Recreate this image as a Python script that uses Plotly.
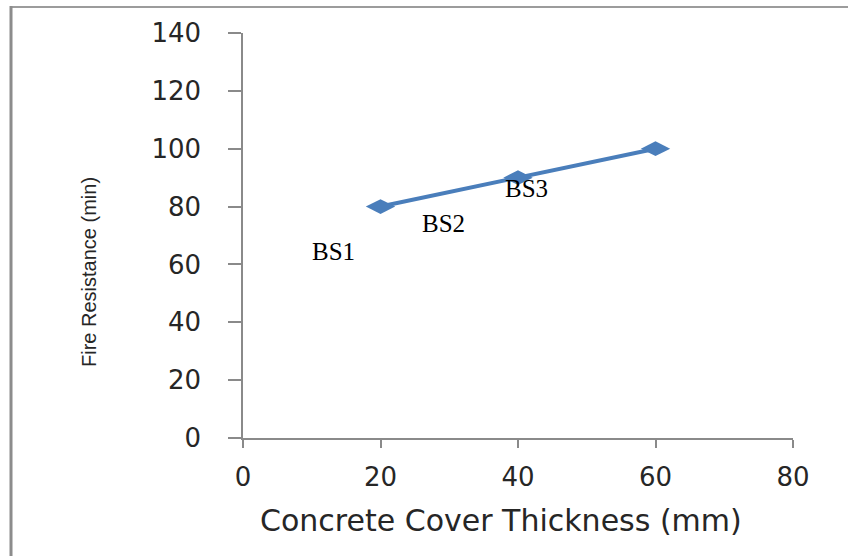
import plotly.graph_objects as go

# Fire resistance vs. concrete cover thickness
cover_mm = [20, 40, 60]
fire_resistance_min = [80, 90, 100]

# Specimen labels and where they sit on the chart (data units)
specimen_labels = ["BS1", "BS2", "BS3"]
label_x = [13.2, 29.1, 41.3]
label_y = [64.6, 74.1, 86.2]

x_ticks = [0, 20, 40, 60, 80]
y_ticks = [0, 20, 40, 60, 80, 100, 120, 140]

W, H = 848, 556
M_L, M_R, M_T, M_B = 243, 55, 33, 118
plot_w = W - M_L - M_R
plot_h = H - M_T - M_B


def px_to_paper_x(px):
    return (px - M_L) / plot_w


def py_to_paper_y(py):
    return (H - M_B - py) / plot_h


line_blue = "#4a7ebb"
axis_grey = "#8a8a8a"
text_col = "#262626"
tick_font = dict(family="DejaVu Sans", size=26, color=text_col)

fig = go.Figure()
fig.add_trace(go.Scatter(
    x=cover_mm,
    y=fire_resistance_min,
    mode="lines+markers",
    line=dict(color=line_blue, width=4),
    marker=dict(symbol="diamond-wide", size=21, color=line_blue),
    showlegend=False,
    hoverinfo="skip",
))

for txt, lx, ly in zip(specimen_labels, label_x, label_y):
    fig.add_annotation(
        x=lx, y=ly, xref="x", yref="y", text=txt, showarrow=False,
        font=dict(family="Liberation Serif", size=25, color="#000000"),
        xanchor="center", yanchor="middle",
    )

# Axis titles
fig.add_annotation(
    x=px_to_paper_x(501), y=py_to_paper_y(520), xref="paper", yref="paper",
    text="Concrete Cover Thickness (mm)", showarrow=False,
    font=dict(family="DejaVu Sans", size=30, color=text_col),
    xanchor="center", yanchor="middle",
)
fig.add_annotation(
    x=px_to_paper_x(89), y=py_to_paper_y(272), xref="paper", yref="paper",
    text="Fire Resistance (min)", showarrow=False, textangle=-90,
    font=dict(family="Liberation Sans Narrow, Liberation Sans", size=20, color=text_col),
    xanchor="center", yanchor="middle",
)

# Frame edges around the figure
fig.add_shape(type="line", xref="paper", yref="paper",
              x0=px_to_paper_x(10), x1=px_to_paper_x(W + 2),
              y0=py_to_paper_y(7), y1=py_to_paper_y(7),
              line=dict(color="#9c9c9c", width=2))
fig.add_shape(type="line", xref="paper", yref="paper",
              x0=px_to_paper_x(11), x1=px_to_paper_x(11),
              y0=py_to_paper_y(6), y1=py_to_paper_y(H + 2),
              line=dict(color="#8c8c8c", width=3))

fig.update_xaxes(
    range=[0, 80], tickvals=x_ticks, ticktext=[str(v) for v in x_ticks],
    showgrid=False, zeroline=False, showline=True, linecolor=axis_grey, linewidth=1.5,
    ticks="outside", ticklen=8, tickcolor=axis_grey, tickwidth=1.5,
    tickfont=tick_font, ticklabelstandoff=7,
)
fig.update_yaxes(
    range=[0, 140], tickvals=y_ticks, ticktext=[str(v) for v in y_ticks],
    showgrid=False, zeroline=False, showline=True, linecolor=axis_grey, linewidth=1.5,
    ticks="outside", ticklen=13, tickcolor=axis_grey, tickwidth=1.5,
    tickfont=tick_font, ticklabelstandoff=22,
)

fig.update_layout(
    width=W, height=H,
    margin=dict(l=M_L, r=M_R, t=M_T, b=M_B),
    paper_bgcolor="white", plot_bgcolor="white",
)

fig.write_html("out.html")
